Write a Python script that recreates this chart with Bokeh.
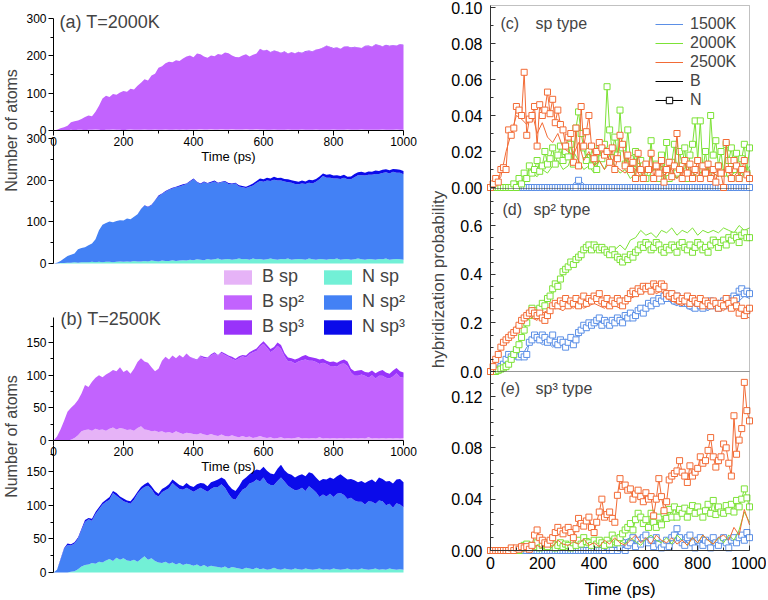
import numpy as np
from bokeh.plotting import figure
from bokeh.layouts import row
from bokeh.models import (ColumnDataSource, Range1d, FixedTicker, Label, Legend,
                          LegendItem, PrintfTickFormatter, LinearAxis, BoxAnnotation)
from bokeh.embed import file_html
from bokeh.resources import INLINE

FONT = "Liberation Sans"

# ---------------------------------------------------------------- data
time_10 = list(range(0, 1001, 10))   # ps
time_20 = list(range(0, 1001, 20))   # ps

# (a) B atoms, T=2000K  (number of atoms)
a_B_sp = [0, 0, 0, 0, 1, 2, 1, 2, 2, 1,
          2, 2, 3, 2, 1, 2, 2, 3, 2, 2,
          1, 2, 3, 2, 2, 2, 3, 2, 2, 3,
          2, 2, 3, 2, 2, 3, 2, 3, 2, 3,
          3, 3, 4, 3, 3, 4, 3, 3, 4, 3,
          3, 4, 3, 3, 3, 4, 3, 3, 4, 3,
          3, 2, 2, 3, 2, 2, 2, 3, 2, 2,
          2, 3, 2, 2, 2, 3, 2, 2, 2, 2,
          3, 2, 2, 2, 3, 2, 2, 2, 3, 2,
          2, 2, 2, 2, 3, 2, 2, 2, 3, 2,
          2]
a_B_sp2 = [0, 2, 6, 9, 12, 20, 24, 25, 29, 35,
           38, 36, 47, 64, 85, 91, 88, 95, 94, 100,
           105, 102, 109, 108, 118, 126, 134, 132, 145, 149,
           166, 170, 177, 182, 181, 185, 184, 190, 196, 198,
           193, 203, 200, 195, 192, 197, 196, 202, 199, 206,
           204, 197, 194, 193, 198, 200, 195, 200, 202, 216,
           210, 214, 207, 210, 210, 205, 209, 202, 208, 204,
           208, 204, 209, 211, 209, 213, 217, 219, 225, 221,
           216, 220, 216, 222, 222, 218, 221, 220, 217, 224,
           224, 222, 228, 226, 222, 226, 224, 226, 224, 229,
           226]
a_B_sp3 = [0] * 60 + [1, 0, 1, 1, 0, 1, 1, 1, 0, 1,
                      1, 1, 2, 1, 1, 1, 0, 1, 1, 1,
                      2, 1, 1, 1, 1, 2, 1, 1, 1, 1,
                      2, 1, 1, 1, 1, 2, 1, 1, 1, 1,
                      2]

# (a) N atoms, T=2000K
a_N_sp = [0, 0, 1, 1, 2, 2, 3, 2, 3, 3,
          3, 4, 3, 4, 3, 4, 4, 3, 4, 5,
          4, 5, 4, 6, 5, 5, 6, 5, 7, 6,
          5, 7, 6, 6, 8, 6, 7, 8, 7, 9,
          8, 10, 9, 8, 11, 9, 10, 12, 9, 10,
          11, 9, 10, 12, 10, 11, 9, 12, 10, 11,
          9, 10, 12, 10, 9, 11, 10, 12, 9, 10,
          11, 10, 9, 12, 10, 9, 11, 10, 9, 11,
          10, 12, 9, 10, 11, 9, 10, 12, 10, 9,
          11, 10, 9, 11, 10, 12, 9, 10, 11, 10,
          9]
a_N_sp2 = [0, 2, 5, 11, 16, 19, 21, 32, 34, 36,
           41, 44, 55, 76, 90, 93, 97, 96, 98, 99,
           99, 103, 102, 106, 113, 125, 133, 130, 133, 145,
           156, 160, 166, 171, 172, 177, 178, 180, 184, 187,
           194, 185, 181, 187, 181, 185, 187, 180, 186, 186,
           180, 181, 182, 173, 173, 170, 175, 175, 183, 187,
           187, 189, 186, 191, 190, 188, 187, 183, 185, 181,
           179, 182, 182, 182, 182, 187, 191, 200, 197, 195,
           194, 192, 194, 196, 191, 193, 197, 200, 202, 202,
           202, 203, 206, 204, 207, 207, 207, 210, 207, 208,
           205]
a_N_sp3 = [0] * 20 + [0, 0, 0, 0, 0, 1, 1, 1, 1, 1,
                      2, 1, 2, 1, 2, 1, 2, 2, 1, 2,
                      2, 1, 2, 2, 1, 2, 2, 2, 1, 2,
                      2, 2, 2, 3, 3, 3, 4, 5, 5, 6,
                      6, 7, 6, 7, 6, 7, 6, 7, 6, 7,
                      6, 7, 6, 7, 8, 7, 7, 6, 7, 8,
                      7, 8, 7, 7, 6, 7, 8, 7, 8, 7,
                      8, 7, 8, 7, 8, 7, 8, 7, 8, 7,
                      8]

# (b) B atoms, T=2500K
b_B_sp = [0, 0, 0, 0, 0, 1, 4, 8, 14, 16,
          17, 15, 18, 16, 17, 15, 18, 20, 17, 19,
          18, 16, 17, 15, 19, 22, 17, 16, 14, 15,
          13, 14, 12, 13, 11, 14, 12, 10, 12, 11,
          10, 9, 11, 9, 8, 10, 8, 7, 9, 7,
          6, 8, 6, 5, 7, 5, 6, 4, 5, 7,
          5, 4, 5, 3, 4, 5, 3, 4, 3, 4,
          5, 3, 4, 3, 4, 3, 5, 3, 4, 3,
          4, 3, 4, 3, 4, 3, 4, 3, 4, 3,
          5, 3, 4, 3, 4, 3, 4, 3, 4, 3,
          4]
b_B_sp2 = [0, 6, 17, 30, 44, 49, 51, 54, 58, 69,
           65, 75, 78, 84, 80, 86, 86, 88, 89, 93,
           87, 92, 85, 95, 101, 104, 104, 103, 98, 91,
           97, 108, 116, 111, 119, 112, 119, 117, 121, 117,
           115, 114, 118, 117, 118, 120, 125, 123, 125, 124,
           122, 117, 117, 121, 122, 122, 126, 131, 132, 137,
           143, 138, 130, 136, 141, 135, 126, 117, 118, 114,
           116, 120, 120, 119, 118, 117, 112, 116, 113, 111,
           110, 110, 113, 115, 110, 101, 95, 96, 97, 96,
           91, 97, 91, 96, 95, 93, 91, 95, 99, 94,
           92]
b_B_sp3 = [0] * 40 + [1, 1, 1, 2, 1, 2, 2, 1, 2, 2,
                      2, 3, 2, 3, 2, 3, 3, 3, 4, 3,
                      4, 4, 5, 4, 5, 6, 5, 6, 5, 6,
                      5, 6, 7, 6, 5, 6, 7, 6, 5, 6,
                      7, 6, 5, 6, 7, 6, 7, 8, 7, 6,
                      8, 7, 8, 7, 9, 8, 7, 9, 8, 9,
                      8]

# (b) N atoms, T=2500K
b_N_sp = [0, 0, 0, 0, 0, 1, 2, 5, 9, 11,
          12, 14, 13, 16, 15, 18, 20, 17, 22, 19,
          21, 18, 17, 19, 16, 20, 24, 19, 21, 17,
          15, 14, 16, 13, 15, 12, 14, 11, 13, 12,
          10, 12, 9, 11, 8, 10, 9, 8, 7, 9,
          6, 8, 7, 6, 5, 7, 6, 5, 7, 5,
          6, 4, 5, 7, 5, 4, 6, 5, 4, 6,
          5, 4, 6, 5, 4, 5, 6, 4, 5, 4,
          6, 5, 4, 5, 6, 4, 5, 4, 6, 5,
          4, 5, 6, 4, 5, 4, 6, 5, 4, 5,
          4]
b_N_sp2 = [0, 4, 19, 35, 41, 39, 41, 45, 54, 64,
           67, 63, 74, 78, 86, 87, 88, 101, 92, 91,
           85, 86, 85, 89, 101, 103, 103, 110, 103, 99,
           98, 105, 106, 112, 118, 116, 110, 112, 113, 111,
           110, 111, 117, 112, 112, 114, 118, 119, 124, 117,
           111, 102, 101, 110, 118, 119, 126, 129, 131, 130,
           135, 129, 125, 123, 131, 137, 129, 124, 121, 116,
           118, 122, 115, 123, 120, 114, 106, 112, 108, 113,
           106, 112, 114, 110, 103, 107, 102, 101, 99, 96,
           102, 100, 96, 103, 101, 96, 96, 91, 99, 96,
           93]
b_N_sp3 = [0, 0, 1, 1, 2, 2, 2, 2, 2, 3,
           2, 3, 3, 3, 3, 3, 4, 3, 4, 3,
           4, 3, 4, 4, 3, 4, 4, 5, 4, 5,
           4, 5, 5, 6, 5, 6, 6, 5, 7, 6,
           7, 8, 7, 9, 8, 10, 9, 11, 10, 12,
           13, 14, 13, 12, 14, 15, 14, 16, 15, 17,
           16, 18, 17, 16, 18, 19, 17, 18, 20, 19,
           21, 20, 22, 21, 23, 22, 24, 23, 25, 24,
           27, 26, 28, 27, 29, 28, 30, 29, 31, 32,
           30, 33, 32, 34, 33, 35, 34, 36, 35, 38,
           37]

# hybridization probability, N atoms every 10 ps, B atoms every 20 ps
c_N = {
    "1500K": [0] * 34 + [0.004] + [0] * 66,
    "2000K": [0, 0, 0, 0, 0, 0, 0, 0, 0, 0.002,
              0.000, 0.005, 0.002, 0.008, 0.005, 0.012, 0.008, 0.010, 0.015, 0.009,
              0.012, 0.020, 0.013, 0.016, 0.022, 0.013, 0.018, 0.023, 0.015, 0.020,
              0.017, 0.024, 0.013, 0.033, 0.042, 0.030, 0.022, 0.015, 0.020, 0.012,
              0.018, 0.010, 0.022, 0.016, 0.024, 0.056, 0.032, 0.020, 0.028, 0.018,
              0.043, 0.022, 0.013, 0.032, 0.016, 0.010, 0.020, 0.008, 0.015, 0.012,
              0.005, 0.010, 0.026, 0.008, 0.013, 0.005, 0.018, 0.010, 0.025, 0.005,
              0.014, 0.024, 0.008, 0.020, 0.012, 0.022, 0.005, 0.018, 0.024, 0.037,
              0.015, 0.037, 0.010, 0.020, 0.008, 0.040, 0.018, 0.026, 0.012, 0.020,
              0.008, 0.024, 0.015, 0.022, 0.010, 0.019, 0.005, 0.016, 0.024, 0.008,
              0.022],
    "2500K": [0.000, 0.002, 0.005, 0.003, 0.010, 0.011, 0.010, 0.032, 0.029, 0.033,
              0.045, 0.043, 0.040, 0.064, 0.029, 0.038, 0.040, 0.045, 0.023, 0.046,
              0.040, 0.043, 0.053, 0.041, 0.049, 0.036, 0.043, 0.035, 0.032, 0.023,
              0.028, 0.030, 0.014, 0.033, 0.012, 0.045, 0.023, 0.031, 0.040, 0.023,
              0.016, 0.020, 0.025, 0.022, 0.018, 0.020, 0.014, 0.022, 0.010, 0.016,
              0.029, 0.024, 0.012, 0.018, 0.010, 0.014, 0.005, 0.019, 0.010, 0.005,
              0.013, 0.010, 0.019, 0.005, 0.012, 0.008, 0.015, 0.003, 0.010, 0.014,
              0.006, 0.012, 0.030, 0.010, 0.005, 0.015, 0.008, 0.013, 0.005, 0.010,
              0.015, 0.005, 0.012, 0.008, 0.013, 0.005, 0.010, 0.003, 0.012, 0.008,
              0.000, 0.025, 0.010, 0.005, 0.015, 0.012, 0.005, 0.010, 0.015, 0.007,
              0.005],
}
c_B = {
    "1500K": [0] * 16 + [0.002, 0.005, 0.002] + [0] * 32,
    "2000K": [0, 0, 0, 0, 0, 0.001, 0.003, 0.005, 0.008, 0.006,
              0.010, 0.008, 0.012, 0.015, 0.010, 0.012, 0.020, 0.015, 0.010, 0.012,
              0.008, 0.015, 0.010, 0.018, 0.012, 0.008, 0.010, 0.005, 0.008, 0.006,
              0.004, 0.008, 0.006, 0.010, 0.004, 0.007, 0.005, 0.010, 0.012, 0.008,
              0.006, 0.010, 0.012, 0.008, 0.006, 0.010, 0.005, 0.008, 0.010, 0.006,
              0.012],
    "2500K": [0, 0.002, 0.006, 0.020, 0.030, 0.040, 0.038, 0.035, 0.042, 0.030,
              0.036, 0.028, 0.025, 0.030, 0.022, 0.020, 0.018, 0.025, 0.015, 0.020,
              0.012, 0.015, 0.010, 0.014, 0.012, 0.010, 0.008, 0.012, 0.010, 0.006,
              0.010, 0.008, 0.012, 0.006, 0.008, 0.010, 0.005, 0.008, 0.010, 0.006,
              0.008, 0.005, 0.010, 0.008, 0.006, 0.010, 0.008, 0.006, 0.010, 0.008,
              0.006],
}
d_N = {
    "1500K": [0.0, 0.0, 0.005, 0.01, 0.02, 0.03, 0.05, 0.07, 0.06, 0.07,
              0.08, 0.06, 0.07, 0.06, 0.07, 0.12, 0.13, 0.15, 0.14, 0.13,
              0.15, 0.14, 0.12, 0.13, 0.15, 0.12, 0.11, 0.13, 0.12, 0.10,
              0.12, 0.14, 0.11, 0.13, 0.16, 0.17, 0.19, 0.18, 0.20, 0.19,
              0.20, 0.21, 0.22, 0.19, 0.21, 0.20, 0.19, 0.21, 0.20, 0.22,
              0.21, 0.20, 0.23, 0.22, 0.24, 0.22, 0.23, 0.25, 0.26, 0.24,
              0.26, 0.28, 0.27, 0.29, 0.28, 0.30, 0.29, 0.31, 0.30, 0.32,
              0.30, 0.29, 0.31, 0.29, 0.28, 0.30, 0.28, 0.27, 0.28, 0.26,
              0.28, 0.27, 0.26, 0.28, 0.27, 0.29, 0.27, 0.28, 0.26, 0.28,
              0.29, 0.27, 0.30, 0.29, 0.31, 0.30, 0.33, 0.34, 0.32, 0.33,
              0.32],
    "2000K": [0.0, 0.0, 0.0, 0.005, 0.01, 0.015, 0.02, 0.03, 0.05, 0.07,
              0.09, 0.11, 0.14, 0.17, 0.20, 0.23, 0.26, 0.25, 0.24, 0.26,
              0.28, 0.27, 0.30, 0.31, 0.34, 0.36, 0.35, 0.38, 0.41, 0.42,
              0.43, 0.45, 0.44, 0.46, 0.47, 0.48, 0.50, 0.51, 0.52, 0.50,
              0.52, 0.51, 0.50, 0.51, 0.50, 0.49, 0.48, 0.50, 0.48, 0.47,
              0.46, 0.45, 0.47, 0.46, 0.48, 0.47, 0.49, 0.50, 0.52, 0.51,
              0.53, 0.52, 0.50, 0.51, 0.53, 0.52, 0.50, 0.49, 0.51, 0.50,
              0.52, 0.51, 0.49, 0.52, 0.53, 0.51, 0.50, 0.52, 0.49, 0.51,
              0.53, 0.52, 0.50, 0.51, 0.49, 0.52, 0.54, 0.53, 0.51, 0.53,
              0.54, 0.52, 0.55, 0.54, 0.56, 0.55, 0.53, 0.56, 0.57, 0.55,
              0.55],
    "2500K": [0.0, 0.02, 0.05, 0.07, 0.10, 0.12, 0.13, 0.14, 0.15, 0.16,
              0.17, 0.19, 0.21, 0.22, 0.23, 0.24, 0.25, 0.24, 0.23, 0.24,
              0.22, 0.21, 0.23, 0.25, 0.27, 0.28, 0.27, 0.29, 0.28, 0.30,
              0.27, 0.29, 0.28, 0.30, 0.27, 0.29, 0.31, 0.28, 0.30, 0.29,
              0.31, 0.30, 0.32, 0.29, 0.28, 0.30, 0.27, 0.29, 0.28, 0.30,
              0.29, 0.27, 0.29, 0.30, 0.32, 0.33, 0.32, 0.34, 0.33, 0.35,
              0.34, 0.35, 0.33, 0.36, 0.35, 0.34, 0.36, 0.35, 0.32, 0.31,
              0.32, 0.30, 0.31, 0.29, 0.30, 0.29, 0.31, 0.28, 0.30, 0.29,
              0.28, 0.30, 0.27, 0.29, 0.28, 0.27, 0.29, 0.28, 0.26, 0.28,
              0.27, 0.30, 0.28, 0.26, 0.29, 0.27, 0.24, 0.26, 0.23, 0.25,
              0.26],
}
d_B = {
    "1500K": [0, 0.01, 0.03, 0.05, 0.06, 0.05, 0.06, 0.10, 0.12, 0.13,
              0.11, 0.12, 0.10, 0.11, 0.13, 0.12, 0.11, 0.14, 0.17, 0.19,
              0.20, 0.19, 0.21, 0.20, 0.22, 0.20, 0.23, 0.22, 0.24, 0.26,
              0.25, 0.28, 0.27, 0.29, 0.30, 0.28, 0.27, 0.29, 0.26, 0.25,
              0.27, 0.26, 0.25, 0.27, 0.25, 0.26, 0.28, 0.27, 0.29, 0.31,
              0.30],
    "2000K": [0, 0, 0.01, 0.02, 0.05, 0.10, 0.15, 0.20, 0.25, 0.24,
              0.27, 0.29, 0.32, 0.36, 0.40, 0.43, 0.45, 0.48, 0.50, 0.51,
              0.52, 0.50, 0.51, 0.49, 0.50, 0.52, 0.50, 0.54, 0.55, 0.58,
              0.56, 0.57, 0.55, 0.58, 0.57, 0.59, 0.56, 0.58, 0.57, 0.59,
              0.56, 0.58, 0.57, 0.58, 0.57, 0.59, 0.58, 0.57, 0.60, 0.58,
              0.59],
    "2500K": [0, 0.04, 0.09, 0.12, 0.15, 0.19, 0.22, 0.24, 0.22, 0.21,
              0.24, 0.25, 0.27, 0.26, 0.25, 0.27, 0.26, 0.28, 0.26, 0.27,
              0.28, 0.27, 0.26, 0.28, 0.27, 0.26, 0.28, 0.30, 0.31, 0.32,
              0.33, 0.34, 0.32, 0.33, 0.30, 0.29, 0.28, 0.27, 0.29, 0.28,
              0.27, 0.28, 0.26, 0.27, 0.26, 0.25, 0.27, 0.26, 0.24, 0.23,
              0.22],
}
e_N = {
    "1500K": [0] * 40 + [0, 0, 0, 0, 0, 0.003, 0, 0, 0.005, 0,
                         0.002, 0.006, 0, 0.004, 0.006, 0.010, 0.003, 0.008, 0.005, 0.010,
                         0.012, 0.006, 0.008, 0.003, 0.010, 0.005, 0.002, 0.005, 0.008, 0.003,
                         0.010, 0.012, 0.017, 0.010, 0.006, 0.004, 0.010, 0.012, 0.006, 0.002,
                         0.008, 0.010, 0.004, 0.008, 0.006, 0.002, 0.010, 0.006, 0.004, 0.008,
                         0.010, 0.006, 0.002, 0.008, 0.010, 0.006, 0.010, 0.012, 0.008, 0.014,
                         0.010],
    "2000K": [0] * 10 + [0, 0, 0.002, 0.004, 0.005, 0.002, 0.004, 0.003, 0.006, 0.002,
                         0.004, 0.005, 0.003, 0.006, 0.005, 0.002, 0.004, 0.006, 0.003, 0.005,
                         0.004, 0.002, 0.006, 0.004, 0.008, 0.005, 0.010, 0.007, 0.006, 0.004,
                         0.008, 0.005, 0.008, 0.006, 0.004, 0.008, 0.005, 0.012, 0.009, 0.006,
                         0.010, 0.013, 0.016, 0.018, 0.021, 0.016, 0.024, 0.029, 0.026, 0.021,
                         0.024, 0.018, 0.029, 0.022, 0.018, 0.026, 0.020, 0.029, 0.025, 0.032,
                         0.026, 0.034, 0.026, 0.032, 0.029, 0.033, 0.026, 0.031, 0.035, 0.029,
                         0.034, 0.030, 0.026, 0.031, 0.036, 0.029, 0.039, 0.028, 0.034, 0.030,
                         0.029, 0.035, 0.031, 0.036, 0.030, 0.039, 0.034, 0.040, 0.048, 0.041,
                         0.034],
    "2500K": [0, 0, 0, 0, 0, 0, 0, 0, 0.002, 0,
              0.002, 0.001, 0.003, 0.002, 0.003, 0.001, 0.004, 0.012, 0.016, 0.010,
              0.008, 0.006, 0.005, 0.008, 0.010, 0.014, 0.018, 0.015, 0.013, 0.016,
              0.018, 0.014, 0.010, 0.017, 0.025, 0.021, 0.019, 0.023, 0.026, 0.018,
              0.014, 0.022, 0.030, 0.040, 0.026, 0.028, 0.030, 0.025, 0.022, 0.043,
              0.056, 0.050, 0.051, 0.047, 0.048, 0.040, 0.044, 0.047, 0.042, 0.038,
              0.045, 0.040, 0.042, 0.027, 0.040, 0.056, 0.042, 0.031, 0.038, 0.055,
              0.058, 0.060, 0.062, 0.070, 0.061, 0.058, 0.053, 0.066, 0.058, 0.061,
              0.064, 0.073, 0.068, 0.070, 0.078, 0.088, 0.073, 0.065, 0.070, 0.073,
              0.083, 0.080, 0.068, 0.058, 0.105, 0.075, 0.086, 0.095, 0.131, 0.109,
              0.101],
}
e_B = {
    "1500K": [0] * 21 + [0.002, 0.004, 0.010, 0.006, 0.012, 0.008, 0.010, 0.006, 0.012, 0.008,
                         0.005, 0.003, 0.006, 0.010, 0.004, 0.008, 0.012, 0.006, 0.004, 0.008,
                         0.003, 0.006, 0.004, 0.008, 0.005, 0.010, 0.006, 0.012, 0.010, 0.016],
    "2000K": [0] * 11 + [0.002, 0.004, 0.001, 0.003, 0.002, 0.005, 0.003, 0.004, 0.006, 0.003,
                         0.005, 0.002, 0.006, 0.004, 0.008, 0.005, 0.010, 0.007, 0.004, 0.009,
                         0.012, 0.008, 0.006, 0.010, 0.005, 0.012, 0.008, 0.004, 0.010, 0.006,
                         0.012, 0.008, 0.005, 0.010, 0.006, 0.012, 0.008, 0.016, 0.030, 0.022],
    "2500K": [0] * 9 + [0.004, 0.002, 0.006, 0.003, 0.008, 0.005, 0.004, 0.007, 0.005, 0.009,
                        0.004, 0.006, 0.003, 0.008, 0.005, 0.010, 0.006, 0.004, 0.008, 0.012,
                        0.006, 0.010, 0.005, 0.012, 0.008, 0.006, 0.010, 0.005, 0.008, 0.004,
                        0.010, 0.006, 0.012, 0.008, 0.005, 0.010, 0.012, 0.008, 0.018, 0.012,
                        0.032, 0.020],
}

temperatures = ["1500K", "2000K", "2500K"]
x_ticks = [0, 200, 400, 600, 800, 1000]
x_minor = [100, 300, 500, 700, 900]

for arr in [a_B_sp, a_B_sp2, a_B_sp3, a_N_sp, a_N_sp2, a_N_sp3,
            b_B_sp, b_B_sp2, b_B_sp3, b_N_sp, b_N_sp2, b_N_sp3]:
    assert len(arr) == len(time_10), len(arr)
for dct in [c_N, d_N, e_N]:
    for k, v in dct.items():
        assert len(v) == len(time_10), (k, len(v))
for dct in [c_B, d_B, e_B]:
    for k, v in dct.items():
        assert len(v) == len(time_20), (k, len(v))

# ---------------------------------------------------------------- style / layout
B_COLORS = ["#E6B3F7", "#C263FE", "#9933FA"]
N_COLORS = ["#72F0D6", "#4381F5", "#0B0BEA"]
T_COLORS = {"1500K": "#5B8FE6", "2000K": "#7CE236", "2500K": "#F26B36"}
AXR = "#333333"
TOTAL_W, H = 766, 598
SPLIT = 425          # page x where the left figure ends / right figure starts


class Band:
    """Maps the values lo..hi onto the page pixel rows bot_px..top_px."""
    def __init__(self, lo, hi, top_px, bot_px):
        self.lo, self.hi, self.top, self.bot = lo, hi, top_px, bot_px
        self.k = (hi - lo) / (bot_px - top_px)

    def val(self, py):
        return self.lo + (self.bot - py) * self.k

    def rng(self):
        return Range1d(self.val(H), self.val(0))


def x_range_for(canvas_x0, canvas_x1, px0, px1):
    k = 1000.0 / (px1 - px0)
    return Range1d((canvas_x0 - px0) * k, (canvas_x1 - px0) * k)


def style_axis(ax, ticks, minor, size, color, inward, standoff):
    ax.ticker = FixedTicker(ticks=ticks, minor_ticks=minor)
    ax.axis_line_color = color
    ax.major_tick_line_color = color
    ax.minor_tick_line_color = color
    if inward:
        ax.major_tick_in, ax.major_tick_out = 5, 0
        ax.minor_tick_in, ax.minor_tick_out = 3, 0
    else:
        ax.major_tick_in, ax.major_tick_out = 0, 5
        ax.minor_tick_in, ax.minor_tick_out = 0, 3
    ax.major_label_text_font = FONT
    ax.major_label_text_font_size = size
    ax.major_label_text_color = "black"
    ax.major_label_standoff = standoff
    ax.axis_label_text_font = FONT
    ax.axis_label_text_font_style = "normal"
    ax.axis_label_text_color = "black"


def canvas_figure(x0, x1, xr, yr):
    p = figure(width=x1 - x0, height=H, x_range=xr, y_range=yr,
               x_axis_location=None, y_axis_location=None, output_backend="svg",
               toolbar_location=None, title=None,
               min_border_left=0, min_border_right=0, min_border_top=0, min_border_bottom=0,
               background_fill_color=None, border_fill_color=None, outline_line_color=None)
    p.grid.visible = False
    p.extra_x_ranges = {"px": Range1d(x0, x1)}
    return p


def add_text(p, X, Y, s, size, align="left", angle=0.0):
    p.add_layout(Label(x=X, y=Y, x_range_name="px", y_range_name="px", text=s,
                       text_font=FONT, text_font_size=size, text_align=align,
                       text_baseline="middle", angle=angle))


# ================================================================ left figure
bands_L = {"a": Band(0, 300, 18, 130), "a2": Band(0, 300, 138, 263),
           "b": Band(0, 150, 342, 440), "b2": Band(0, 150, 471, 572)}
axis_top_px = {"a": 18, "a2": 138, "b": 317, "b2": 445}

pL = canvas_figure(0, SPLIT, x_range_for(0, SPLIT, 53, 403), bands_L["b2"].rng())
pL.extra_y_ranges = dict({k: b.rng() for k, b in bands_L.items()}, px=Range1d(H, 0))

panels_L = [("a", a_B_sp, a_B_sp2, a_B_sp3, B_COLORS),
            ("a2", a_N_sp, a_N_sp2, a_N_sp3, N_COLORS),
            ("b", b_B_sp, b_B_sp2, b_B_sp3, B_COLORS),
            ("b2", b_N_sp, b_N_sp2, b_N_sp3, N_COLORS)]
area_r = {}
for key, sp, sp2, sp3, cols in panels_L:
    src = ColumnDataSource(dict(t=time_10, sp=sp, sp2=sp2, sp3=sp3))
    area_r[key] = pL.varea_stack(["sp", "sp2", "sp3"], x="t", color=cols, source=src,
                                 y_range_name=key)
    if key in ("a", "a2"):
        ticks, minor = [0, 100, 200, 300], [50, 150, 250]
    else:
        ticks, minor = [0, 50, 100, 150], [25, 75, 125, 175]
    yax = LinearAxis(y_range_name=key, fixed_location=0,
                     bounds=(0, bands_L[key].val(axis_top_px[key])))
    style_axis(yax, ticks, minor, "12px", "black", False, 2)
    pL.add_layout(yax, "left")
    if key in ("a", "b"):
        xax = LinearAxis(y_range_name=key, fixed_location=0, bounds=(0, 1000),
                         axis_label="Time (ps)")
        style_axis(xax, x_ticks, x_minor, "12px", "black", False, 1)
        xax.axis_label_text_font_size = "13px"
        xax.axis_label_standoff = 0
        pL.add_layout(xax, "below")

labels_B = ["B sp", "B sp\u00b2", "B sp\u00b3"]
labels_N = ["N sp", "N sp\u00b2", "N sp\u00b3"]
for labels, rends, xpos in [(labels_B, area_r["b"], 220), (labels_N, area_r["b2"], 320)]:
    leg = Legend(items=[LegendItem(label=l, renderers=[r]) for l, r in zip(labels, rends)],
                 location=(xpos, H - 337), glyph_width=35, glyph_height=18,
                 label_standoff=7, spacing=4, padding=0, margin=0,
                 label_text_font=FONT, label_text_font_size="18px",
                 border_line_color=None, background_fill_alpha=0)
    pL.add_layout(leg)

add_text(pL, 11, 130, "Number of atoms", "16px", "center", np.pi / 2)
add_text(pL, 11, 436, "Number of atoms", "16px", "center", np.pi / 2)
add_text(pL, 59, 21, "(a) T=2000K", "18px")
add_text(pL, 60, 318, "(b) T=2500K", "18px")

# ================================================================ right figure
bands_R = {"c": Band(0, 0.1, 7, 187), "d": Band(0, 0.6, 225, 371), "e": Band(0, 0.12, 396, 550)}
box_px = {"c": (5, 188), "d": (188, 371), "e": (371, 550)}

pR = canvas_figure(SPLIT, TOTAL_W, x_range_for(SPLIT, TOTAL_W, 490, 749), bands_R["e"].rng())
pR.extra_y_ranges = dict({k: b.rng() for k, b in bands_R.items()}, px=Range1d(H, 0))

axis_spec = {
    "c": ([0, 0.02, 0.04, 0.06, 0.08, 0.1], [0.01, 0.03, 0.05, 0.07, 0.09], "%.2f"),
    "d": ([0, 0.2, 0.4, 0.6], [0.05, 0.1, 0.15, 0.25, 0.3, 0.35, 0.45, 0.5, 0.55, 0.65, 0.7],
          "%.1f"),
    "e": ([0, 0.04, 0.08, 0.12], [0.01, 0.02, 0.03, 0.05, 0.06, 0.07, 0.09, 0.1, 0.11, 0.13],
          "%.2f"),
}
prob_data = {"c": (c_N, c_B), "d": (d_N, d_B), "e": (e_N, e_B)}
line_r = {}
for key in ("c", "d", "e"):
    N, B = prob_data[key]
    bd = bands_R[key]
    top_px, bot_px = box_px[key]
    for name in temperatures:
        col = T_COLORS[name]
        rb = pR.line(time_20, B[name], line_color=col, line_width=1, y_range_name=key)
        pR.line(time_10, N[name], line_color=col, line_width=1, y_range_name=key)
        pR.scatter(time_10, N[name], marker="square", size=6, line_color=col,
                   fill_color="white", line_width=1, y_range_name=key)
        if key == "c":
            line_r[name] = rb
    pR.add_layout(BoxAnnotation(left=0, right=1000, bottom=bd.val(bot_px), top=bd.val(top_px),
                                y_range_name=key, fill_color=None, line_color=AXR,
                                line_width=1))
    ticks, minor, fmt = axis_spec[key]
    yax = LinearAxis(y_range_name=key, fixed_location=0,
                     bounds=(bd.val(bot_px), bd.val(top_px)))
    style_axis(yax, ticks, minor, "16px", AXR, True, 8)
    yax.formatter = PrintfTickFormatter(format=fmt)
    pR.add_layout(yax, "left")

xax = LinearAxis(y_range_name="e", fixed_location=bands_R["e"].val(550), bounds=(0, 1000),
                 axis_label="Time (ps)")
style_axis(xax, x_ticks, x_minor, "16px", AXR, True, 6)
xax.axis_label_text_font_size = "17px"
xax.axis_label_standoff = 8
pR.add_layout(xax, "below")

nan = [float("nan")]
rB = pR.line(nan, nan, line_color="black", line_width=1, y_range_name="c")
rNl = pR.line(nan, nan, line_color="black", line_width=1, y_range_name="c")
rNm = pR.scatter(nan, nan, marker="square", size=7, line_color="black", fill_color="white",
                 y_range_name="c")
leg_c = Legend(items=[LegendItem(label=t, renderers=[line_r[t]]) for t in temperatures] +
               [LegendItem(label="B", renderers=[rB]),
                LegendItem(label="N", renderers=[rNl, rNm])],
               location=(655 - SPLIT, H - 109), glyph_width=28, glyph_height=16,
               label_standoff=7, spacing=1, padding=0, margin=0, label_text_font=FONT,
               label_text_font_size="16px", border_line_color=None,
               background_fill_alpha=0)
pR.add_layout(leg_c)

add_text(pR, 438, 279, "hybridization probability", "17px", "center", np.pi / 2)
add_text(pR, 500, 23, "(c)", "16px")
add_text(pR, 535, 23, "sp type", "16px")
add_text(pR, 502, 209, "(d)", "16px")
add_text(pR, 533, 209, "sp\u00b2 type", "16px")
add_text(pR, 500, 388, "(e)", "16px")
add_text(pR, 535, 388, "sp\u00b3 type", "16px")

root = row(pL, pR)
open("out.html", "w").write(file_html(root, INLINE))
